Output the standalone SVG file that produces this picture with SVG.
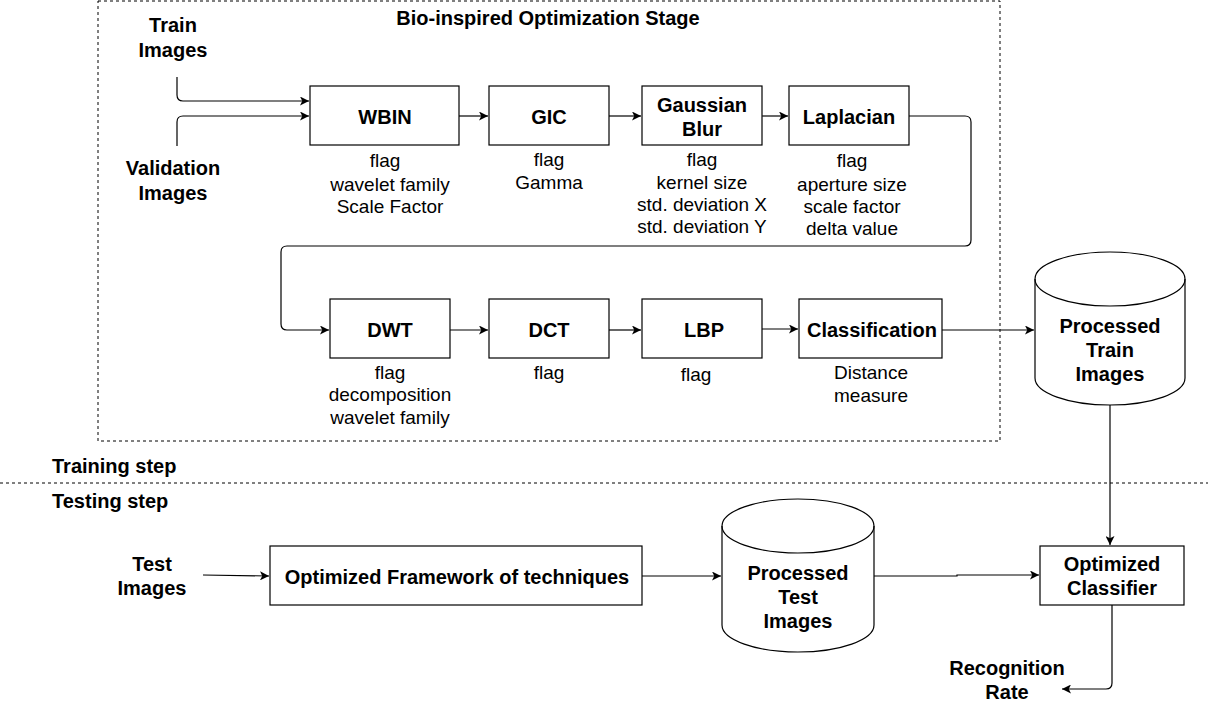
<svg xmlns="http://www.w3.org/2000/svg" width="1208" height="703" viewBox="0 0 1208 703">
<style>
text{font-family:"Liberation Sans",Arial,sans-serif;font-size:19px;fill:#000;text-anchor:middle}
.b{font-weight:bold;font-size:20px}
.l{text-anchor:start}
.box{fill:#fff;stroke:#000;stroke-width:1.2}
.c{fill:none;stroke:#000;stroke-width:1.2}
.d{fill:none;stroke:#000;stroke-width:1;stroke-dasharray:3 3}
</style>
<defs>
<marker id="a" viewBox="0 0 10 10" refX="10" refY="5" markerWidth="9" markerHeight="9" markerUnits="userSpaceOnUse" orient="auto">
<path d="M0,0 L10,5 L0,10 L2.5,5 Z" fill="#000"/>
</marker>
</defs>
<rect width="1208" height="703" fill="#fff"/>
<g id="stage">
<rect class="d" x="98" y="1" width="902" height="440"/>
<text class="b" x="548" y="25">Bio-inspired Optimization Stage</text>
</g>
<g id="separator">
<line class="d" x1="0" y1="483" x2="1208" y2="483"/>
<text class="b l" x="52" y="473">Training step</text>
<text class="b l" x="52" y="508">Testing step</text>
</g>
<g id="connectors">
<path class="c" d="M177,77 V95 Q177,101 183,101 H309" marker-end="url(#a)"/>
<path class="c" d="M177,146 V122 Q177,116 183,116 H309" marker-end="url(#a)"/>
<path class="c" d="M459,116 H488" marker-end="url(#a)"/>
<path class="c" d="M609,116 H641" marker-end="url(#a)"/>
<path class="c" d="M762,116 H788" marker-end="url(#a)"/>
<path class="c" d="M909,116 H965 Q971,116 971,122 V240 Q971,246 965,246 H287 Q281,246 281,252 V324 Q281,330 287,330 H329" marker-end="url(#a)"/>
<path class="c" d="M450,330 H488" marker-end="url(#a)"/>
<path class="c" d="M609,330 H641" marker-end="url(#a)"/>
<path class="c" d="M759,329 H798" marker-end="url(#a)"/>
<path class="c" d="M942,330 H1034" marker-end="url(#a)"/>
<path class="c" d="M1110,405 V545" marker-end="url(#a)"/>
<path class="c" d="M203,575 L269,576" marker-end="url(#a)"/>
<path class="c" d="M642,576 H721" marker-end="url(#a)"/>
<path class="c" d="M874,576 H957 V575 H1039" marker-end="url(#a)"/>
<path class="c" d="M1112,605 V683 Q1112,689 1106,689 H1062" marker-end="url(#a)"/>
</g>
<g id="train-images">
<text class="b" x="173" y="32">Train</text>
<text class="b" x="173" y="57">Images</text>
</g>
<g id="validation-images">
<text class="b" x="173" y="175">Validation</text>
<text class="b" x="173" y="200">Images</text>
</g>
<g id="wbin">
<rect class="box" x="310" y="86" width="149" height="59"/>
<text class="b" x="385" y="124">WBIN</text>
<text x="385" y="167">flag</text>
<text x="390" y="191">wavelet family</text>
<text x="390" y="213">Scale Factor</text>
</g>
<g id="gic">
<rect class="box" x="489" y="86" width="120" height="59"/>
<text class="b" x="549" y="124">GIC</text>
<text x="549" y="166">flag</text>
<text x="549" y="189">Gamma</text>
</g>
<g id="gaussian">
<rect class="box" x="642" y="86" width="120" height="59"/>
<text class="b" x="702" y="112">Gaussian</text>
<text class="b" x="702" y="136">Blur</text>
<text x="702" y="166">flag</text>
<text x="702" y="189">kernel size</text>
<text x="702" y="211">std. deviation X</text>
<text x="702" y="233">std. deviation Y</text>
</g>
<g id="laplacian">
<rect class="box" x="789" y="86" width="120" height="59"/>
<text class="b" x="849" y="124">Laplacian</text>
<text x="852" y="167">flag</text>
<text x="852" y="191">aperture size</text>
<text x="852" y="213">scale factor</text>
<text x="852" y="235">delta value</text>
</g>
<g id="dwt">
<rect class="box" x="330" y="299" width="120" height="59"/>
<text class="b" x="390" y="337">DWT</text>
<text x="390" y="379">flag</text>
<text x="390" y="401">decomposition</text>
<text x="390" y="424">wavelet family</text>
</g>
<g id="dct">
<rect class="box" x="489" y="299" width="120" height="59"/>
<text class="b" x="549" y="337">DCT</text>
<text x="549" y="379">flag</text>
</g>
<g id="lbp">
<rect class="box" x="642" y="299" width="120" height="59"/>
<text class="b" x="704" y="337">LBP</text>
<text x="696" y="381">flag</text>
</g>
<g id="classification">
<rect class="box" x="799" y="299" width="143" height="59"/>
<text class="b" x="872" y="337">Classification</text>
<text x="871" y="379">Distance</text>
<text x="871" y="402">measure</text>
</g>
<g id="processed-train">
<path class="box" d="M1035,279 A75,27 0 0 1 1185,279 V378 A75,27 0 0 1 1035,378 Z"/>
<path class="c" d="M1035,279 A75,27 0 0 0 1185,279"/>
<text class="b" x="1110" y="333">Processed</text>
<text class="b" x="1110" y="357">Train</text>
<text class="b" x="1110" y="381">Images</text>
</g>
<g id="test-images">
<text class="b" x="152" y="571">Test</text>
<text class="b" x="152" y="595">Images</text>
</g>
<g id="framework">
<rect class="box" x="270" y="546" width="372" height="59"/>
<text class="b" x="457" y="584">Optimized Framework of techniques</text>
</g>
<g id="processed-test">
<path class="box" d="M722,526 A76,27 0 0 1 874,526 V625 A76,27 0 0 1 722,625 Z"/>
<path class="c" d="M722,526 A76,27 0 0 0 874,526"/>
<text class="b" x="798" y="580">Processed</text>
<text class="b" x="798" y="604">Test</text>
<text class="b" x="798" y="628">Images</text>
</g>
<g id="optimized-classifier">
<rect class="box" x="1040" y="546" width="144" height="59"/>
<text class="b" x="1112" y="571">Optimized</text>
<text class="b" x="1112" y="595">Classifier</text>
</g>
<g id="recognition-rate">
<text class="b" x="1007" y="675">Recognition</text>
<text class="b" x="1007" y="699">Rate</text>
</g>
</svg>
